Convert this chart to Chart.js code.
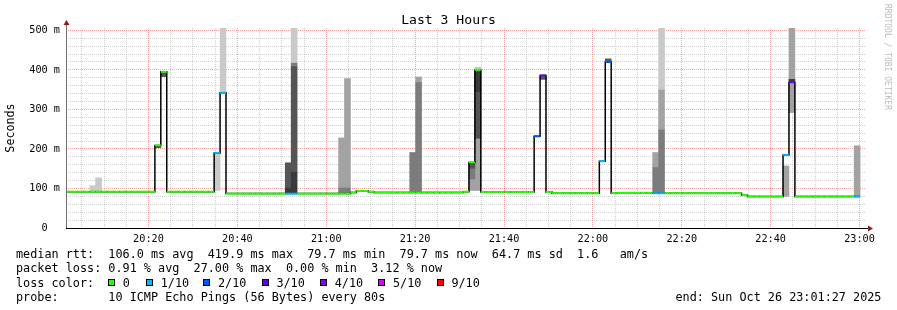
<!DOCTYPE html>
<html>
<head>
<meta charset="utf-8">
<script src="https://cdn.jsdelivr.net/npm/chart.js@4/dist/chart.umd.min.js"></script>
<style>
html,body{margin:0;padding:0;background:#fff;}
#wrap{position:relative;width:897px;height:310px;overflow:hidden;font-family:'DejaVu Sans Mono',monospace;color:#000;}
#c{position:absolute;left:0;top:0;}
.t{position:absolute;white-space:pre;font-size:11.8px;line-height:14px;}
#title{position:absolute;left:0;width:897px;top:12px;text-align:center;font-size:13.1px;line-height:15px;white-space:pre;}
#wm{position:absolute;left:883px;top:4px;writing-mode:vertical-rl;font-size:8px;line-height:9px;color:#bcbcbc;white-space:pre;}
.sq{position:absolute;width:7px;height:7px;box-sizing:border-box;border:1px solid #000;}
</style>
</head>
<body>
<div id="wrap">
<canvas id="c" width="897" height="310"></canvas>
<div id="title">Last 3 Hours</div>
<div id="wm">RRDTOOL / TOBI OETIKER</div>
<div class="t" style="left:16px;top:247px">median rtt:  106.0 ms avg  419.9 ms max  79.7 ms min  79.7 ms now  64.7 ms sd  1.6   am/s</div>
<div class="t" style="left:16px;top:261.3px">packet loss: 0.91 % avg  27.00 % max  0.00 % min  3.12 % now</div>
<div class="t" style="left:16px;top:275.6px">loss color:</div>
<div class="t" style="left:16px;top:289.9px">probe:       10 ICMP Echo Pings (56 Bytes) every 80s</div>
<div class="t" style="left:675.5px;top:289.9px">end: Sun Oct 26 23:01:27 2025</div>
</div>
<script>
// ---- time base ----
const startLabel = '20:01:27';           // first step start
const stepSeconds = 80;                  // one probe round

// ---- median round-trip time (ms) per 80 s step ----
const medianMs = [
  92,92,92,92,92,92,92,92,92,92,92,92,92,92,92,
  209,395,92,92,92,92,92,92,92,92,190,342,87,87,87,
  87,87,87,87,87,87,87,87,87,87,87,87,87,87,87,
  87,87,87,90,94,94,92,90,90,90,90,90,90,90,90,
  90,90,90,90,90,90,90,92,166,400,91,91,91,91,91,
  91,91,91,91,232,386,91,88,88,88,88,88,88,88,88,
  169,420,88,89,89,89,89,89,89,88,88,88,88,88,88,
  88,88,88,88,88,88,88,88,88,83,79.7,79.7,79.7,79.7,79.7,
  79.7,185,369,79.7,79.7,79.7,79.7,79.7,79.7,79.7,79.7,79.7,79.7,79.7,null
];
// ---- lost pings out of 10 per step ----
const lossTenths = [
  0,0,0,0,0,0,0,0,0,0,0,0,0,0,0,
  0,0,0,0,0,0,0,0,0,0,1,1,0,0,0,
  0,0,0,0,0,0,0,1,1,0,0,0,0,0,0,
  0,0,0,0,0,0,0,0,0,0,0,0,0,0,0,
  0,0,0,0,0,0,0,0,0,0,0,0,0,0,0,
  0,0,0,0,2,3,0,0,0,0,0,0,0,0,0,
  1,2,0,0,0,0,0,0,0,1,1,0,0,0,0,
  0,0,0,0,0,0,0,0,0,0,0,0,0,0,0,
  0,1,3,0,0,0,0,0,0,0,0,0,0,1,null
];
// ---- smoke (ping spread) bands: [step, low ms, high ms] per shade ----
const smokeLight  = [[4,92,107],[5,92,127],[25,95,190],[26,343,506],[38,417,506],[69,401,407],[100,349,506]];
const smokeSilver = [[46,101,228],[47,101,378],[59,368,382],[68,95,124],[69,95,227],[99,153,191],[100,248,349],[121,80,157],[122,292,506],[133,80,208]];
const smokeGrey   = [[38,408,417],[46,89,101],[47,89,101],[58,90,191],[59,90,368],[68,124,151],[99,88,153],[100,88,248]];
const smokeDim    = [[15,203,207],[16,383,393],[37,101,165],[38,141,408],[68,151,164],[69,227,345],[80,376,383],[91,422,428]];
const smokeDark   = [[37,89,101],[38,88,141],[69,345,396],[122,372,376]];

// ---- loss legend ----
const lossLevels = [0,1,2,3,4,5,9];
const lossLabels = ['0','1/10','2/10','3/10','4/10','5/10','9/10'];
const lossColors = ['#26ff00','#00b8ff','#0059ff','#5e00ff','#7e00ff','#dd00ff','#ff0000'];

// ---- axis tick labels ----
const xMajorLabels = ['20:20','20:40','21:00','21:20','21:40','22:00','22:20','22:40','23:00'];
const yMajorLabels = ['0  ','100 m','200 m','300 m','400 m','500 m'];
const yMajorValues = [0,100,200,300,400,500];
const yMax = 506;

// ---------- helpers ----------
const toMin = s => { const p = s.split(':').map(Number); return (p[0]-20)*60 + p[1] + (p[2]||0)/60; };
const startMin = toMin(startLabel);
const stepMin = stepSeconds/60;
const stepStart = k => startMin + k*stepMin;
const nSteps = medianMs.length;
const lossColorFor = l => { const i = lossLevels.indexOf(l); return i >= 0 ? lossColors[i] : lossColors[lossColors.length-1]; };

// median line points: start + end of each step
const medianPts = [];
medianMs.forEach((v,k) => {
  if (v === null) return;
  medianPts.push({x: stepStart(k), y: v});
  medianPts.push({x: stepStart(k+1), y: v});
});

const smokeSet = (rows, color, order) => ({
  type: 'bar',
  data: rows.map(r => ({x: stepStart(r[0]) + stepMin/2, y: [r[1], r[2]]})),
  backgroundColor: color,
  borderWidth: 0,
  grouped: false,
  categoryPercentage: 1,
  barPercentage: 1,
  order: order
});

// loss legend in HTML
const lossLegendX = [108,146,203.3,261.7,320,378.3,436.7];
const wrap = document.getElementById('wrap');
lossLabels.forEach((lab,i) => {
  const sq = document.createElement('div');
  sq.className = 'sq';
  sq.style.left = lossLegendX[i] + 'px';
  sq.style.top = '279px';
  sq.style.background = lossColors[i];
  wrap.appendChild(sq);
  const t = document.createElement('div');
  t.className = 't';
  t.style.left = (lossLegendX[i] + 14.7) + 'px';
  t.style.top = '275.6px';
  t.textContent = lab;
  wrap.appendChild(t);
});

const MAJOR_RED = 'rgba(235,90,90,0.55)';
const MINOR_GREY = 'rgba(150,150,150,0.45)';

const axisArrows = {
  id: 'axisArrows',
  afterDraw(chart) {
    const {ctx, chartArea: a} = chart;
    ctx.save();
    ctx.lineWidth = 1;
    ctx.strokeStyle = '#707070';
    ctx.beginPath();
    ctx.moveTo(Math.round(a.left)+0.5, a.bottom);
    ctx.lineTo(Math.round(a.left)+0.5, a.top - 6);
    ctx.stroke();
    ctx.strokeStyle = '#000';
    ctx.beginPath();
    ctx.moveTo(a.left, Math.round(a.bottom)+0.5);
    ctx.lineTo(a.right + 3, Math.round(a.bottom)+0.5);
    ctx.stroke();
    ctx.fillStyle = '#8b1c1c';
    const lx = Math.round(a.left)+0.5;
    ctx.beginPath();
    ctx.moveTo(lx-3, a.top-3); ctx.lineTo(lx+3, a.top-3); ctx.lineTo(lx, a.top-8); ctx.closePath(); ctx.fill();
    const by = Math.round(a.bottom)+0.5;
    ctx.beginPath();
    ctx.moveTo(a.right+2, by-3); ctx.lineTo(a.right+2, by+3); ctx.lineTo(a.right+7, by); ctx.closePath(); ctx.fill();
    ctx.restore();
  }
};

const xMinorTicks = [];
for (let m = 5; m <= 180; m += 5) xMinorTicks.push(m);
const yMinorTicks = [];
for (let v = 0; v <= 500; v += 20) yMinorTicks.push(v);
const tickFont = {family: "'DejaVu Sans Mono'", size: 10.2};

new Chart(document.getElementById('c'), {
  type: 'line',
  data: {
    datasets: [
      {
        type: 'line', data: medianPts, borderColor: '#26ff00', borderWidth: 2,
        pointRadius: 0, tension: 0, spanGaps: false, order: 0,
        segment: {
          borderColor: c => c.p0.parsed.x === c.p1.parsed.x ? 'rgba(0,0,0,0)' : lossColorFor(lossTenths[Math.floor(c.p0DataIndex/2)])
        }
      },
      {
        type: 'line', data: medianPts, borderColor: '#000', borderWidth: 1.5,
        pointRadius: 0, tension: 0, spanGaps: false, order: 1
      },
      smokeSet(smokeDark, '#3a3a3a', 2),
      smokeSet(smokeDim, '#555555', 3),
      smokeSet(smokeGrey, '#7c7c7c', 4),
      smokeSet(smokeSilver, '#a2a2a2', 5),
      smokeSet(smokeLight, '#c9c9c9', 6)
    ]
  },
  options: {
    responsive: false,
    animation: false,
    devicePixelRatio: 1,
    events: [],
    layout: {padding: {left: 0, right: 31, top: 28, bottom: 62}},
    plugins: {legend: {display: false}, tooltip: {enabled: false}, title: {display: false}},
    scales: {
      x: {
        type: 'linear', min: startMin, max: startMin + nSteps*stepMin, offset: false,
        afterBuildTicks: ax => { ax.ticks = xMinorTicks.map(v => ({value: v})); },
        afterFit: s => { s.height = 20; },
        grid: {
          color: c => (c.tick && xMajorLabels.some(l => Math.abs(toMin(l) - c.tick.value) < 1e-6)) ? MAJOR_RED : MINOR_GREY,
          lineWidth: 1, drawTicks: false, offset: false
        },
        border: {display: false, dash: [1,1]},
        ticks: {
          autoSkip: false, maxRotation: 0, minRotation: 0, padding: 5, color: '#000', font: tickFont,
          callback: v => { const l = xMajorLabels.find(l => Math.abs(toMin(l) - v) < 1e-6); return l || ''; }
        }
      },
      y: {
        type: 'linear', min: 0, max: yMax,
        afterBuildTicks: ax => { ax.ticks = yMinorTicks.map(v => ({value: v})); },
        afterFit: s => { s.width = 66; },
        grid: {
          color: c => (c.tick && yMajorValues.includes(c.tick.value)) ? MAJOR_RED : MINOR_GREY,
          lineWidth: 1, drawTicks: false
        },
        border: {display: false, dash: [1,1]},
        title: {display: true, text: 'Seconds', color: '#000', font: {family: "'DejaVu Sans Mono'", size: 11.7}, padding: {top: 4, bottom: 0}},
        ticks: {
          autoSkip: false, padding: 6, color: '#000', font: tickFont,
          callback: v => { const i = yMajorValues.indexOf(v); return i >= 0 ? yMajorLabels[i] : ''; }
        }
      }
    }
  },
  plugins: [axisArrows]
});
</script>
</body>
</html>
